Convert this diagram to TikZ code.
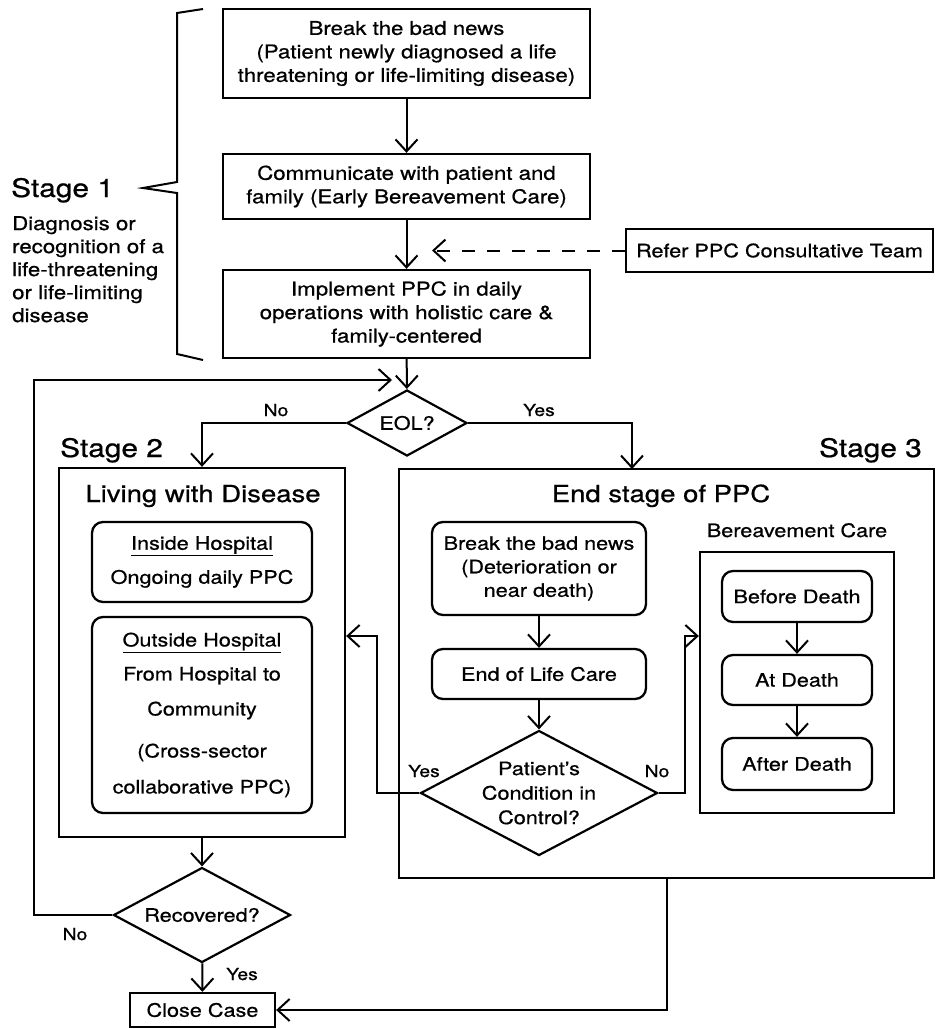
\documentclass[tikz,border=0pt]{standalone}
\usepackage{fontspec}
\setmainfont{TeX Gyre Heros}[FakeStretch=1.17, FakeBold=0.7]
\usetikzlibrary{arrows.meta,shapes.geometric}

\begin{document}
\begin{tikzpicture}[x=1pt, y=-1pt, >={Straight Barb[length=12pt,width=22pt]},
    every node/.style={inner sep=0pt, font=\fontsize{18.5}{23.5}\selectfont},
    box/.style={draw, line width=2.3pt, align=center},
    rbox/.style={box, rounded corners=11pt},
    dia/.style={draw, diamond, line width=2.2pt, align=center},
    line/.style={line width=2pt},
    lab/.style={font=\fontsize{16.5}{20}\selectfont},
    stagelab/.style={font=\fontsize{25.5}{30}\selectfont},
    title/.style={font=\fontsize{23.5}{28}\selectfont}]
    % 1. Khung hình
    \useasboundingbox (0,0) rectangle (936,1029);

    % 2. Giai đoạn 1
    \node[box, minimum width=367pt, minimum height=89pt, font=\fontsize{19}{23.5}\selectfont] (news) at (406.5,53.5)
        {Break the bad news\\(Patient newly diagnosed a life\\threatening or life-limiting disease)};
    \node[box, minimum width=367pt, minimum height=65pt, font=\fontsize{19}{23.5}\selectfont] (comm) at (406.5,186.5)
        {Communicate with patient and\\family (Early Bereavement Care)};
    \node[box, minimum width=367pt, minimum height=88pt, font=\fontsize{19}{23.5}\selectfont] (impl) at (406.5,314)
        {Implement PPC in daily\\operations with holistic care \&\\family-centered};
    \node[box, minimum width=307pt, minimum height=43pt] (refer) at (779.5,250.5) {Refer PPC Consultative Team};
    \coordinate (refertip) at (432,250.5);

    \draw[line width=2pt] (203,9) -- (177,13) -- (177,182) -- (143,188) -- (177,193) -- (177,354) -- (203,360);
    \node[stagelab, anchor=base west] (st1) at (11,197) {Stage 1};
    \node[align=left, anchor=north west, font=\fontsize{19}{23}\selectfont] (st1txt) at (12,216)
        {Diagnosis or\\recognition of a\\life-threatening\\or life-limiting\\disease};

    \draw[line, ->] (news) -- (comm);
    \draw[line, ->] (comm) -- (impl);
    \draw[line, ->, dash pattern=on 13pt off 12pt] (refer) -- (refertip);

    % 3. Nút EOL
    \node[dia, minimum width=120pt, minimum height=66pt, aspect=1.82] (eol) at (407,423) {EOL?};
    \draw[line, ->] (impl) -- (eol);

    % 4. Giai đoạn 2
    \node[stagelab, anchor=base west] (st2) at (60,457) {Stage 2};
    \node[box, minimum width=286pt, minimum height=369pt] (live) at (202,652.5) {};
    \node[title, anchor=base] (livet) at (203,502) {Living with Disease};
    \node[rbox, minimum width=220pt, minimum height=80pt] (inside) at (202,562)
        {\underline{Inside Hospital}\\[10.5pt]Ongoing daily PPC};
    \node[rbox, minimum width=220pt, minimum height=196pt] (outside) at (202,715)
        {\underline{Outside Hospital}\\[10.5pt]From Hospital to\\[11.5pt]Community\\[18.5pt](Cross-sector\\[12.5pt]collaborative PPC)};

    % 5. Giai đoạn 3
    \node[stagelab, anchor=base east] (st3) at (922,457) {Stage 3};
    \node[box, minimum width=535pt, minimum height=409pt] (endst) at (666.5,673.5) {};
    \node[title, anchor=base] (endt) at (661,502) {End stage of PPC};
    \node[rbox, minimum width=214pt, minimum height=93pt] (news2) at (539,568.5)
        {Break the bad news\\(Deterioration or\\near death)};
    \node[rbox, minimum width=214pt, minimum height=50pt] (eolc) at (539,674) {End of Life Care};
    \node[dia, minimum width=237pt, minimum height=125pt, aspect=1.9, font=\fontsize{18.5}{24.5}\selectfont] (ctrl) at (539,793)
        {Patient’s\\Condition in\\Control?};
    \node[anchor=base] (bvt) at (797,537) {Bereavement Care};
    \node[box, minimum width=194pt, minimum height=261pt] (bv) at (797,682.5) {};
    \node[rbox, minimum width=150pt, minimum height=51pt] (before) at (797,596.5) {Before Death};
    \node[rbox, minimum width=150pt, minimum height=50pt] (atd) at (797,680) {At Death};
    \node[rbox, minimum width=150pt, minimum height=52pt] (after) at (797,764) {After Death};

    \draw[line, ->] (news2) -- (eolc);
    \draw[line, ->] (eolc) -- (ctrl);
    \draw[line, ->] (before) -- (atd);
    \draw[line, ->] (atd) -- (after);
    \coordinate (yesturn) at (377,636);
    \coordinate (noturn) at (685,636);
    \draw[line, ->] (ctrl.west) -| (yesturn) -- (yesturn -| live.east);
    \draw[line, ->] (ctrl.east) -| (noturn) -- (noturn -| bv.west);
    \node[lab, anchor=base] (yes2) at (424,777) {Yes};
    \node[lab, anchor=base] (no2) at (657,777) {No};

    % 6. Nhánh EOL
    \coordinate (s3in) at (632,469);
    \draw[line, ->] (eol.west) -| (live.north);
    \draw[line, ->] (eol.east) -| (s3in);
    \node[lab, anchor=base] (no1) at (276,416) {No};
    \node[lab, anchor=base] (yes1) at (539,416) {Yes};

    % 7. Hồi phục và đóng hồ sơ
    \node[dia, minimum width=177pt, minimum height=95pt, aspect=1.86] (rec) at (202,915) {Recovered?};
    \node[box, minimum width=145pt, minimum height=34pt] (close) at (202.5,1010) {Close Case};
    \coordinate (loopturn) at (34,380);
    \coordinate (loopend) at (392,380);
    \draw[line, ->] (live) -- (rec);
    \draw[line, ->] (rec) -- (close);
    \draw[line, ->] (rec.west) -| (loopturn) -- (loopend);
    \draw[line, ->] (endst.south) |- (close.east);
    \node[lab, anchor=base] (no3) at (75,940) {No};
    \node[lab, anchor=base] (yes3) at (242,980) {Yes};
\end{tikzpicture}
\end{document}
